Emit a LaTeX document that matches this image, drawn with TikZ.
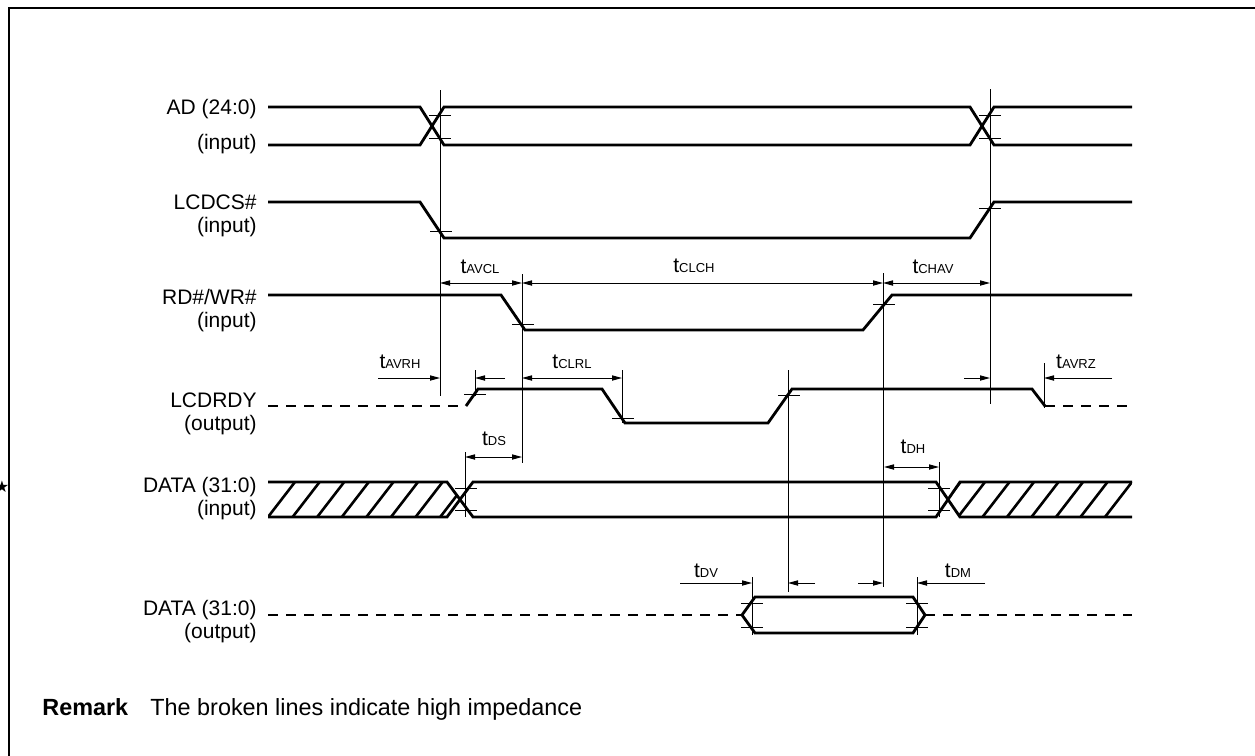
\documentclass[tikz,border=0pt]{standalone}
\usepackage{fontspec}
\setmainfont{Liberation Sans}
\newfontfamily\symfont{DejaVu Sans}
\usetikzlibrary{arrows.meta}
\newcommand{\tlab}[1]{{\fontsize{10.5}{12}\selectfont t}{\fontsize{6.5}{7}\selectfont #1}}
\begin{document}
\begin{tikzpicture}[x=0.5pt,y=-0.5pt,
  sig/.style={line width=1.4pt,line join=miter},
  hiz/.style={line width=1.4pt,dash pattern=on 5pt off 4pt},
  refl/.style={line width=0.5pt},
  tck/.style={line width=0.5pt},
  dimboth/.style={line width=0.5pt,{Triangle[length=5pt,width=2.6pt]}-{Triangle[length=5pt,width=2.6pt]}},
  dimto/.style={line width=0.5pt,-{Triangle[length=5pt,width=2.6pt]}},
  lbl/.style={anchor=base east,inner sep=0pt,font=\fontsize{10.5}{12}\selectfont},
  tl/.style={anchor=base,inner sep=0pt},
  hatchl/.style={line width=1.3pt}]
\useasboundingbox (0,0) rectangle (1255,756);
% frame
\draw[line width=1pt] (9,760) -- (9,8) -- (1260,8);
\node[inner sep=0pt,font=\symfont\fontsize{8}{8}\selectfont] (star) at (2,487) {★};

% labels
\node[lbl] (l1a) at (257,114) {AD (24:0)};
\node[lbl] (l1b) at (257,149) {(input)};
\node[lbl] (l2a) at (257,209) {LCDCS\#};
\node[lbl] (l2b) at (257,232) {(input)};
\node[lbl] (l3a) at (257,304) {RD\#/WR\#};
\node[lbl] (l3b) at (257,327) {(input)};
\node[lbl] (l4a) at (257,407) {LCDRDY};
\node[lbl] (l4b) at (257,430) {(output)};
\node[lbl] (l5a) at (257,492) {DATA (31:0)};
\node[lbl] (l5b) at (257,515) {(input)};
\node[lbl] (l6a) at (257,615) {DATA (31:0)};
\node[lbl] (l6b) at (257,638) {(output)};

% AD
\draw[sig] (268,107) -- (420,107) -- (444,145) -- (970,145) -- (994,107) -- (1132,107);
\draw[sig] (268,145) -- (420,145) -- (444,107) -- (970,107) -- (994,145) -- (1132,145);
% LCDCS#
\draw[sig] (268,202) -- (420,202) -- (444,238) -- (970,238) -- (994,202) -- (1132,202);
% RD#/WR#
\draw[sig] (268,295) -- (501,295) -- (525,330) -- (863,330) -- (892,295) -- (1132,295);
% LCDRDY
\draw[hiz] (268,406) -- (466,406);
\draw[sig] (466,406) -- (478,389) -- (602,389) -- (625,423) -- (768,423) -- (792,389) -- (1032,389) -- (1045,406);
\draw[hiz] (1045,406) -- (1132,406);
% DATA input
\begin{scope}
\clip (268,482) -- (447,482) -- (460,499.5) -- (448,517) -- (268,517) -- cycle;
\foreach \b in {268,292.6,...,450} \draw[hatchl] (\b,517) -- (\b+27,482);
\end{scope}
\begin{scope}
\clip (948,499.5) -- (960,482) -- (1132,482) -- (1132,517) -- (960,517) -- cycle;
\foreach \b in {933.5,958,...,1110} \draw[hatchl] (\b,517) -- (\b+27,482);
\end{scope}
\draw[sig] (268,482) -- (447,482) -- (473,517) -- (936,517) -- (960,482) -- (1132,482);
\draw[sig] (268,517) -- (447,517) -- (473,482) -- (936,482) -- (960,517) -- (1132,517);
% DATA output
\draw[hiz] (268,615) -- (742,615);
\draw[sig] (742,615) -- (755,597) -- (913,597) -- (925,615) -- (913,633) -- (755,633) -- cycle;
\draw[hiz] (925,615) -- (1132,615);

% reference lines
\draw[refl] (440,90) -- (440,396);
\draw[refl] (990,89) -- (990,404);
\draw[refl] (522,274) -- (522,463);
\draw[refl] (883,273) -- (883,587);
\draw[refl] (475,370) -- (475,396);
\draw[refl] (622,370) -- (622,423);
\draw[refl] (788,370) -- (788,592);
\draw[refl] (1044,363) -- (1044,408);
\draw[refl] (465,452) -- (465,517);
\draw[refl] (939,462) -- (939,517);
\draw[refl] (752,577) -- (752,635);
\draw[refl] (917,577) -- (917,635);

% ticks
\foreach \x/\y in {440/115,440/138,990/115,990/138,441/231,990/208,523/324,884/304,
  475/394,623/418,789/395,466/488,466/510,939/488,939/510,752/603,752/627,917/603,917/627}
  \draw[tck] (\x-11,\y) -- (\x+11,\y);

% dimension arrows
\draw[dimboth] (440,283) -- (522,283);
\draw[dimboth] (522,283) -- (883,283);
\draw[dimboth] (883,283) -- (990,283);
\node[tl] (tavcl) at (480,273) {\tlab{AVCL}};
\node[tl] (tclch) at (694,272) {\tlab{CLCH}};
\node[tl] (tchav) at (933,273) {\tlab{CHAV}};

\draw[dimto] (378,378) -- (440,378);
\draw[dimto] (505,378) -- (475,378);
\draw[dimboth] (522,378) -- (622,378);
\draw[dimto] (964,378) -- (990,378);
\draw[dimto] (1112,378) -- (1044,378);
\node[tl] (tavrh) at (400,368) {\tlab{AVRH}};
\node[tl] (tclrl) at (572,368) {\tlab{CLRL}};
\node[tl] (tavrz) at (1076,368) {\tlab{AVRZ}};

\draw[dimboth] (465,457) -- (522,457);
\node[tl] (tds) at (494,445) {\tlab{DS}};
\draw[dimboth] (884,467) -- (939,467);
\node[tl] (tdh) at (913,453) {\tlab{DH}};

\draw[dimto] (680,583) -- (752,583);
\draw[dimto] (815,583) -- (788,583);
\node[tl] (tdv) at (706,577) {\tlab{DV}};
\draw[dimto] (858,583) -- (883,583);
\draw[dimto] (985,583) -- (917,583);
\node[tl] (tdm) at (958,577) {\tlab{DM}};

% remark
\node[anchor=base west,inner sep=0pt,font=\fontsize{11.7}{13}\selectfont\bfseries] (rem) at (42,715) {Remark};
\node[anchor=base west,inner sep=0pt,font=\fontsize{11.7}{13}\selectfont] (remtxt) at (150,715) {The broken lines indicate high impedance};
\end{tikzpicture}
\end{document}
